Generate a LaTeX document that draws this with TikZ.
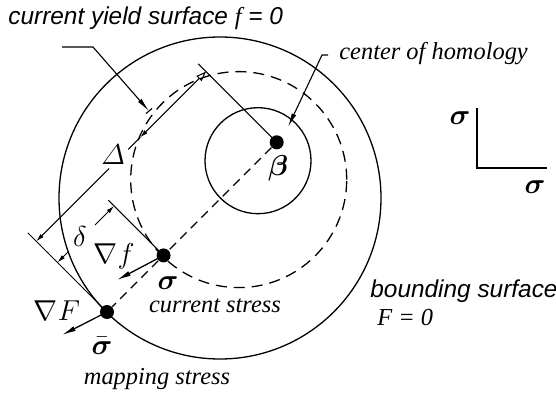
\documentclass[tikz,border=0pt]{standalone}
\usepackage{fontspec}
\usepackage{amsmath,bm}
\setmainfont{Liberation Serif}
\setsansfont{Liberation Sans}
\usetikzlibrary{arrows.meta,calc}
\tikzset{
  dot/.style={circle,fill=black,inner sep=0pt,minimum size=7pt},
  surf/.style={line width=0.65pt},
  ysurf/.style={line width=0.65pt,dash pattern=on 5.5pt off 3.5pt},
  cline/.style={line width=0.55pt,dash pattern=on 4.5pt off 3pt},
  dimline/.style={line width=0.5pt},
  gradarrow/.style={line width=0.65pt,-{Latex[length=7pt,width=2.6pt]}},
  leader/.style={line width=0.55pt},
  leadtip/.style={-{Latex[length=7pt,width=2.4pt]}},
  dimtip/.style={-{Latex[length=4pt,width=2.2pt]}},
  sanslab/.style={inner sep=0pt,font=\sffamily\itshape\fontsize{12.2}{14}\selectfont},
  seriflab/.style={inner sep=0pt,font=\rmfamily\itshape\fontsize{12.2}{14}\selectfont},
  mathlab/.style={inner sep=0pt,font=\fontsize{13.5}{15}\selectfont}
}
\begin{document}
\begin{tikzpicture}[x=0.5pt,y=-0.5pt]
\useasboundingbox (0,0) rectangle (556,395);
% surfaces
\coordinate (C) at (220,198);
\coordinate (Cf) at (238.7,179.6);
\coordinate (Cs) at (258,160.7);
\draw[surf] (C) circle[radius=80.5pt];
\draw[ysurf] (Cf) circle[radius=54pt];
\draw[surf] (Cs) circle[radius=26.5pt];
% stress points
\node[dot] (B) at (276.7,142.3) {};
\node[dot] (S) at (163.57,255.43) {};
\node[dot] (SB) at (107,312) {};
\draw[cline] (B) -- (S);
\draw[cline] (S) -- (SB);
% extension lines
\coordinate (Be) at (198.2,63.8);
\coordinate (Se) at (108.4,200.2);
\coordinate (SBe) at (27.8,232.8);
\draw[dimline] (B.center) -- (Be);
\draw[dimline] (S.center) -- (Se);
\draw[dimline] (SB.center) -- (SBe);
% Delta dimension
\coordinate (D0) at (36.3,241.3);
\coordinate (D1) at (206.0,71.6);
\coordinate (Dg0) at (109.1,168.5);
\coordinate (Dg1) at (128.2,149.4);
\coordinate (Dm) at (140.2,137.4);
\draw[dimline,dimtip] (Dg0) -- (D0);
\draw[dimline] (Dg1) -- (Dm);
\draw[dimline,{Latex[length=4pt,width=2.2pt]}-{Triangle[open,length=5pt,width=3.6pt]}] (Dm) -- (D1);
\node[mathlab] (Dl) at (113,155) {$\varDelta$};
% delta dimension
\coordinate (d0) at (57.5,262.5);
\coordinate (d1) at (114.07,205.93);
\coordinate (dg0) at (68.8,251.2);
\coordinate (dg1) at (95,225);
\draw[dimline,dimtip] (dg0) -- (d0);
\draw[dimline,dimtip] (dg1) -- (d1);
\node[mathlab] (dl) at (80,236) {$\delta$};
% gradients
\coordinate (Sf) at (117,280);
\coordinate (SBf) at (62,335);
\draw[gradarrow] (S.center) -- (Sf);
\draw[gradarrow] (SB.center) -- (SBf);
% leader: current yield surface
\coordinate (L0) at (62,47);
\coordinate (L1) at (93,47);
\coordinate (L2) at (149,111);
\coordinate (Lb0) at (146,113.6);
\coordinate (Lb1) at (152,108.4);
\draw[leader,leadtip] (L0) -- (L1) -- (L2);
\draw[leader] (Lb0) -- (Lb1);
% leader: center of homology
\coordinate (H0) at (328,55);
\coordinate (H1) at (322,55);
\coordinate (H2) at (288,127);
\draw[leader,leadtip] (H0) -- (H1) -- (H2);
% axes
\coordinate (A0) at (477,108);
\coordinate (Ao) at (477,168);
\coordinate (A1) at (547,168);
\draw[line width=0.65pt] (A0) -- (Ao) -- (A1);
\node[mathlab] (ax1) at (460,118) {$\bm{\sigma}$};
\node[mathlab] (ax2) at (535,187) {$\bm{\sigma}$};
% labels
\node[sanslab,anchor=base west] (title) at (8,25) {current yield surface {\rmfamily\itshape f} = 0};
\node[seriflab,anchor=base west] (hom) at (339,60) {center of homology};
\node[mathlab] (bl) at (278,168) {$\bm{\beta}$};
\node[mathlab] (gf) at (114,256) {$\nabla f$};
\node[mathlab] (sl) at (168,283) {$\bm{\sigma}$};
\node[seriflab,anchor=base] (cs) at (215,312) {current stress};
\node[mathlab] (gF) at (57,311) {$\nabla F$};
\node[mathlab] (sbl) at (102,346) {$\bar{\bm{\sigma}}$};
\node[seriflab,anchor=base] (ms) at (157,384) {mapping stress};
\node[sanslab,anchor=base west] (bs) at (370,297) {bounding surface};
\node[seriflab,anchor=base west] (F0) at (377,325) {F = 0};
\end{tikzpicture}
\end{document}
